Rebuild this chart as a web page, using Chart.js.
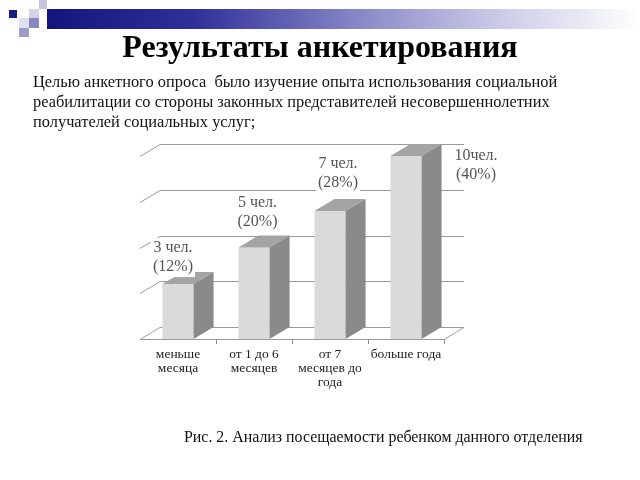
<!DOCTYPE html>
<html><head><meta charset="utf-8">
<script src="https://cdn.jsdelivr.net/npm/chart.js@4"></script>
<style>
html,body{margin:0;padding:0;background:#fff;}
#wrap{position:relative;width:640px;height:480px;overflow:hidden;font-family:"Liberation Serif","Times New Roman",serif;}
canvas{position:absolute;left:0;top:0;}
.t{position:absolute;white-space:nowrap;}
.sq{position:absolute;}
</style></head><body>
<div id="wrap">
<div class="sq" style="left:47px;top:9px;width:593px;height:20px;background:linear-gradient(to right,#14147e 0%,#30309a 25%,#8f8fcc 55%,#c8c8e6 75%,#f4f4fa 95%,#fff 100%);"></div>
<div class="sq" style="left:9px;top:10px;width:8px;height:8px;background:#1c1c80;"></div>
<div class="sq" style="left:39px;top:0px;width:8px;height:9px;background:#c4c4de;"></div>
<div class="sq" style="left:29px;top:9px;width:10px;height:9px;background:#d4d4e8;"></div>
<div class="sq" style="left:29px;top:18px;width:10px;height:10px;background:#8888c0;"></div>
<div class="sq" style="left:19px;top:18px;width:10px;height:10px;background:#e0e0ee;"></div>
<div class="sq" style="left:19px;top:28px;width:10px;height:9px;background:#9c9cc8;"></div>
<canvas id="c" width="640" height="480"></canvas>
<div class="t" style="left:0;width:640px;text-align:center;top:30px;font-size:32px;line-height:32px;font-weight:bold;color:#000;">Результаты анкетирования</div>
<div class="t" style="left:33px;top:72px;font-size:16.4px;line-height:20px;color:#111;white-space:pre;">Целью анкетного опроса  было изучение опыта использования социальной
реабилитации со стороны законных представителей несовершеннолетних
получателей социальных услуг;</div>
<div class="t" style="left:184px;top:428px;font-size:15.9px;line-height:18px;color:#111;">Рис. 2. Анализ посещаемости ребенком данного отделения</div>
</div>
<script>
const categories = [["меньше","месяца"],["от 1 до 6","месяцев"],["от 7","месяцев до","года"],["больше года"]];
const people = [3, 5, 7, 10];
const percents = [12, 20, 28, 40];
const yTicks = [0, 2.5, 5, 7.5, 10];

const DX = 20, DY = -12;
const labelOffsets = [[-5,-36],[3.5,-45],[8,-47],[70,0]];
const FONT = '"Liberation Serif","Times New Roman",serif';

const threeD = {
  id: 'threeD',
  beforeDatasetsDraw(chart) {
    const {ctx, chartArea: a, scales: {y}} = chart;
    ctx.save();
    ctx.strokeStyle = '#9a9a9a'; ctx.lineWidth = 1;
    const yb = Math.round(y.getPixelForValue(0)) + 0.5;
    ctx.beginPath();
    ctx.moveTo(a.left, yb); ctx.lineTo(a.right, yb);
    ctx.lineTo(a.right + DX, yb + DY); ctx.lineTo(a.left + DX, yb + DY);
    ctx.closePath(); ctx.stroke();
    yTicks.forEach(v => {
      if (v === 0) return;
      const py = Math.round(y.getPixelForValue(v)) + 0.5;
      ctx.beginPath();
      ctx.moveTo(a.left, py); ctx.lineTo(a.left + DX, py + DY); ctx.lineTo(a.right + DX, py + DY);
      ctx.stroke();
    });
    ctx.restore();
  },
  afterDatasetsDraw(chart) {
    const {ctx} = chart;
    const meta = chart.getDatasetMeta(0);
    ctx.save();
    meta.data.forEach((bar) => {
      const l = bar.x - bar.width / 2, r = bar.x + bar.width / 2, t = bar.y, b = bar.base;
      ctx.fillStyle = '#a4a4a4';
      ctx.beginPath();
      ctx.moveTo(l, t); ctx.lineTo(r, t); ctx.lineTo(r + DX, t + DY); ctx.lineTo(l + DX, t + DY); ctx.closePath(); ctx.fill();
      ctx.fillStyle = '#8a8a8a';
      ctx.beginPath();
      ctx.moveTo(r, t); ctx.lineTo(r + DX, t + DY); ctx.lineTo(r + DX, b + DY); ctx.lineTo(r, b); ctx.closePath(); ctx.fill();
    });
    ctx.font = '16px ' + FONT;
    ctx.textAlign = 'center'; ctx.textBaseline = 'middle';
    meta.data.forEach((bar, i) => {
      const lines = [people[i] + (people[i] >= 10 ? 'чел.' : ' чел.'), '(' + percents[i] + '%)'];
      const cx = bar.x + labelOffsets[i][0], cy = bar.y + labelOffsets[i][1];
      const w = Math.max(...lines.map(s => ctx.measureText(s).width)) + 4;
      ctx.fillStyle = '#fff';
      ctx.fillRect(cx - w / 2, cy - 10, w, 39);
      ctx.fillStyle = '#555';
      lines.forEach((s, k) => ctx.fillText(s, cx, cy + k * 19));
    });
    ctx.restore();
  }
};

new Chart(document.getElementById('c'), {
  type: 'bar',
  data: {
    labels: categories,
    datasets: [{ data: people, backgroundColor: '#dadada', borderWidth: 0,
      categoryPercentage: 1, barPercentage: 0.41 }]
  },
  options: {
    responsive: false, animation: false, devicePixelRatio: 1,
    layout: { padding: { left: 140, right: 196, top: 156, bottom: 0 } },
    plugins: { legend: { display: false }, tooltip: { enabled: false } },
    scales: {
      y: { display: false, min: 0, max: 10 },
      x: {
        grid: { display: true, drawOnChartArea: false, tickLength: 5, offset: true,
          color: c => c.index === 0 ? 'rgba(0,0,0,0)' : '#888' },
        border: { display: false },
        ticks: { font: { family: FONT, size: 13.5, lineHeight: 1.05 }, color: '#222', padding: 3,
          maxRotation: 0, autoSkip: false },
        afterFit(s) { s.height = 141; }
      }
    }
  },
  plugins: [threeD]
});
</script>
</body></html>
